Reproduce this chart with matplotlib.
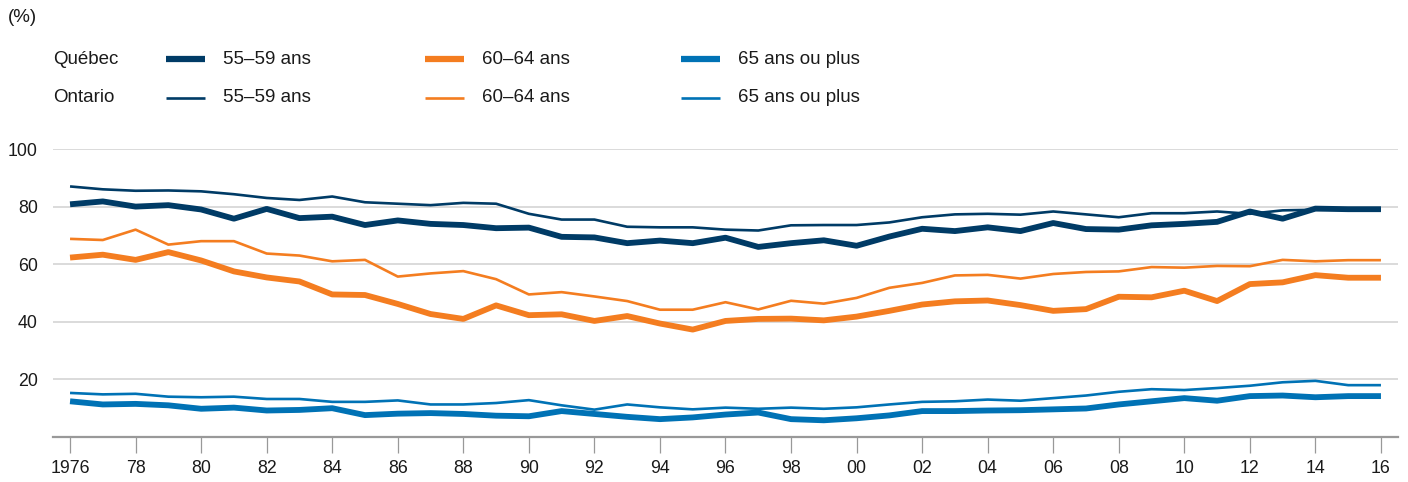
import matplotlib.pyplot as plt
from matplotlib.lines import Line2D

plt.rcParams['font.family'] = ['Liberation Sans', 'DejaVu Sans']

years = list(range(1976, 2017))

# Québec (thick lines)
qc_55_59 = [80.8, 81.8, 80.0, 80.5, 79.0, 75.8, 79.2, 76.0, 76.5, 73.6,
            75.2, 74.0, 73.6, 72.5, 72.7, 69.5, 69.3, 67.3, 68.2, 67.3,
            69.2, 66.0, 67.3, 68.3, 66.4, 69.6, 72.3, 71.5, 72.8, 71.5,
            74.3, 72.2, 72.0, 73.5, 74.0, 74.7, 78.3, 75.8, 79.3, 79.1, 79.1]
qc_60_64 = [62.3, 63.3, 61.5, 64.2, 61.3, 57.5, 55.4, 54.0, 49.5, 49.3,
            46.2, 42.7, 41.0, 45.7, 42.3, 42.6, 40.3, 42.0, 39.4, 37.3,
            40.3, 41.0, 41.1, 40.5, 41.8, 43.8, 46.0, 47.1, 47.4, 45.8,
            43.8, 44.4, 48.7, 48.5, 50.8, 47.2, 53.1, 53.7, 56.2, 55.3, 55.3]
qc_65_plus = [12.4, 11.3, 11.5, 11.0, 9.8, 10.2, 9.2, 9.4, 10.0, 7.6,
              8.1, 8.3, 8.0, 7.4, 7.2, 9.0, 8.0, 7.0, 6.2, 6.8,
              7.8, 8.5, 6.2, 5.8, 6.5, 7.5, 9.0, 9.0, 9.2, 9.3,
              9.6, 9.9, 11.3, 12.4, 13.5, 12.6, 14.2, 14.4, 13.8, 14.2, 14.2]

# Ontario (thin lines)
on_55_59 = [87.0, 86.0, 85.5, 85.6, 85.3, 84.3, 83.0, 82.3, 83.5, 81.5,
            81.0, 80.5, 81.3, 81.0, 77.5, 75.5, 75.5, 73.0, 72.8, 72.8,
            72.0, 71.7, 73.5, 73.6, 73.6, 74.5, 76.3, 77.3, 77.5, 77.2,
            78.3, 77.3, 76.3, 77.7, 77.7, 78.3, 77.5, 78.7, 78.9, 79.0, 79.0]
on_60_64 = [68.8, 68.4, 72.0, 66.8, 68.0, 68.0, 63.7, 63.0, 61.0, 61.5,
            55.7, 56.8, 57.6, 54.8, 49.5, 50.3, 48.8, 47.2, 44.2, 44.2,
            46.8, 44.3, 47.3, 46.3, 48.3, 51.8, 53.5, 56.1, 56.3, 55.0,
            56.6, 57.3, 57.5, 59.0, 58.8, 59.4, 59.3, 61.5, 61.0, 61.4, 61.4]
on_65_plus = [15.3, 14.8, 15.0, 14.0, 13.8, 14.0, 13.2, 13.2, 12.2, 12.2,
              12.7, 11.3, 11.3, 11.8, 12.8, 11.0, 9.5, 11.3, 10.3, 9.6,
              10.2, 9.8, 10.2, 9.8, 10.3, 11.3, 12.2, 12.4, 13.0, 12.6,
              13.5, 14.4, 15.7, 16.6, 16.3, 17.0, 17.8, 19.0, 19.5, 18.0, 18.0]

age_labels = ['55\u201359 ans', '60\u201364 ans', '65 ans ou plus']
colors = ['#003b66', '#f47d20', '#0072b5']
tick_years = list(range(1976, 2017, 2))
tick_labels = ['1976'] + [str(y)[-2:] for y in tick_years[1:]]

fig = plt.figure(figsize=(14.08, 4.82), dpi=100)
ax = fig.add_axes([53 / 1408, 45 / 482, 1345 / 1408, 288 / 482])

thick, thin = 4.2, 1.9
for vals, c in zip([qc_55_59, qc_60_64, qc_65_plus], colors):
    ax.plot(years, vals, color=c, lw=thick, solid_capstyle='butt')
for vals, c in zip([on_55_59, on_60_64, on_65_plus], colors):
    ax.plot(years, vals, color=c, lw=thin, solid_capstyle='butt')

ax.set_xlim(1975.48, 2016.52)
ax.set_ylim(0, 100)
ax.set_yticks([20, 40, 60, 80, 100])
ax.set_xticks(tick_years)
ax.set_xticklabels(tick_labels)
ax.grid(axis='y', color='#d4d4d4', lw=1.2)
ax.set_axisbelow(True)
for s in ['top', 'right', 'left']:
    ax.spines[s].set_visible(False)
ax.spines['bottom'].set_color('#999999')
ax.spines['bottom'].set_linewidth(1.6)
ax.tick_params(axis='y', length=0, pad=11, labelsize=12.8, labelcolor='#1a1a1a')
ax.tick_params(axis='x', length=11.5, width=0.9, color='#999999', pad=5,
               labelsize=12.8, labelcolor='#1a1a1a')

# legend drawn by hand in figure pixels
W, H = 1408, 482
fs = 13.5
fig.text(8 / W, 1 - 18 / H, '(%)', fontsize=fs, va='center', ha='left', color='#1a1a1a')
rows = [('Qu\u00e9bec', 59, thick + 0.3), ('Ontario', 98, thin)]
line_x = [166, 425, 681]
text_x = [223, 482, 738]
for name, yp, lw in rows:
    fy = 1 - yp / H
    fig.text(53 / W, fy, name, fontsize=fs, va='center', ha='left', color='#1a1a1a')
    for lx, tx, lab, c in zip(line_x, text_x, age_labels, colors):
        fig.add_artist(Line2D([lx / W, (lx + 39) / W], [fy, fy], color=c, lw=lw,
                              solid_capstyle='butt', transform=fig.transFigure))
        fig.text(tx / W, fy, lab, fontsize=fs, va='center', ha='left', color='#1a1a1a')

fig.savefig('out.png', dpi=100)
